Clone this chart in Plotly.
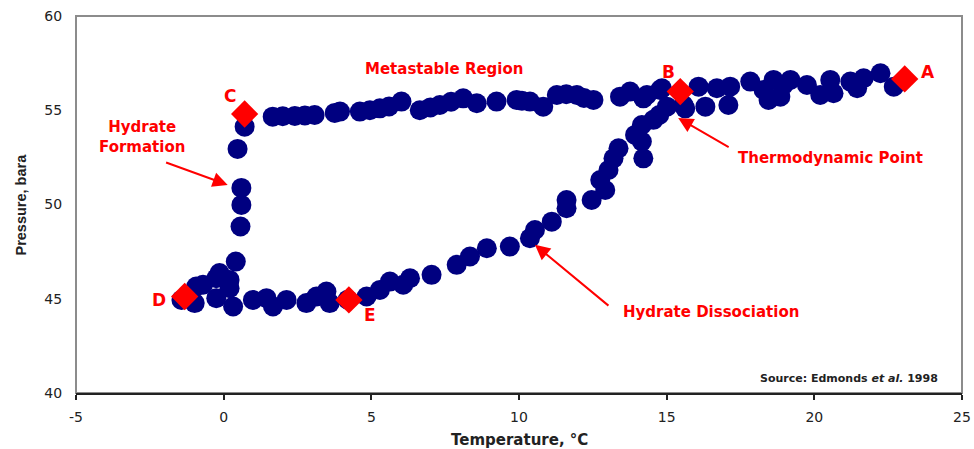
import plotly.graph_objects as go

# Measured cycle points (temperature °C, pressure bara)
temperature = [
    22.69, 22.24, 21.67, 21.45, 21.22, 20.65, 20.54, 20.20, 19.75, 19.19, 18.96, 18.85,
    18.62, 18.45, 18.28, 17.83, 17.15, 17.09, 16.70, 16.31, 16.08, 15.63, 15.57, 14.84,
    14.78, 14.33, 14.21, 13.76, 13.42, 12.52, 12.20, 11.96, 11.60, 11.28, 10.82, 10.37,
    10.10, 9.92, 9.24, 8.57, 8.11, 7.70, 7.32, 7.00, 6.64, 6.02, 5.60, 5.29, 4.95, 4.61,
    3.94, 3.76, 3.08, 2.75, 2.41, 2.00, 1.66,
    0.71, 0.47, 0.60, 0.60, 0.57, 0.41,
    0.20, -0.14, -0.25, -0.70, -0.93, -1.43, -0.98, -0.25, 0.20, 0.32, 0.99, 1.45, 1.67,
    2.13, 2.80, 3.14, 3.48, 3.59, 4.20, 4.84, 5.29, 5.63, 6.08, 6.31, 7.04,
    7.89, 8.34, 8.91, 9.69, 10.37, 10.54, 11.11, 11.61, 11.61, 12.46, 12.92, 12.75,
    13.03, 13.20, 13.37, 13.93, 14.16, 14.55, 14.16, 14.21, 14.75, 15.01,
]
pressure = [
    56.25, 56.96, 56.70, 56.17, 56.52, 55.90, 56.61, 55.81, 56.34, 56.61, 56.34, 55.72,
    56.61, 55.55, 56.08, 56.52, 56.25, 55.28, 56.17, 55.19, 56.25, 55.10, 55.28, 56.17,
    56.08, 55.81, 55.63, 55.99, 55.72, 55.55, 55.65, 55.81, 55.85, 55.81, 55.19, 55.46,
    55.50, 55.55, 55.46, 55.37, 55.63, 55.45, 55.28, 55.15, 55.00, 55.46, 55.20, 55.10, 55.00, 54.93,
    54.93, 54.86, 54.75, 54.72, 54.70, 54.68, 54.66,
    54.13, 52.95, 50.88, 49.98, 48.83, 46.97,
    46.00, 46.36, 46.09, 45.74, 45.65, 44.94, 44.77, 45.03, 45.56, 44.59, 44.94, 45.03, 44.59,
    44.94, 44.77, 45.12, 45.38, 44.77, 44.95, 45.12, 45.47, 45.91, 45.74, 46.09, 46.27,
    46.80, 47.24, 47.68, 47.77, 48.21, 48.65, 49.09, 49.80, 50.24, 50.24, 50.77, 51.30,
    51.83, 52.45, 52.98, 53.69, 54.22, 54.49, 53.34, 52.45, 54.75, 55.19,
]

# Key points A-E
key_labels = ["A", "B", "C", "D", "E"]
key_temperature = [23.06, 15.46, 0.71, -1.32, 4.24]
key_pressure = [56.66, 55.99, 54.80, 45.12, 44.94]

x_ticks = [-5, 0, 5, 10, 15, 20, 25]
y_ticks = [40, 45, 50, 55, 60]

RED = "#ff0000"
NAVY = "#000080"
FONT = "DejaVu Sans"
DARK = "#222222"

fig = go.Figure()
fig.add_trace(go.Scatter(
    x=temperature, y=pressure, mode="markers",
    marker=dict(symbol="circle", size=20, color=NAVY, line=dict(width=0)),
    hoverinfo="skip", showlegend=False,
))
fig.add_trace(go.Scatter(
    x=key_temperature, y=key_pressure, mode="markers",
    marker=dict(symbol="diamond", size=21, color=RED, line=dict(width=0)),
    text=key_labels, hoverinfo="text", showlegend=False,
))

ann = []
letter_pos = {"A": (23.86, 57.03), "B": (15.05, 57.03), "C": (0.20, 55.76),
              "D": (-2.2, 44.94), "E": (4.95, 44.15)}
for lab in key_labels:
    lx, ly = letter_pos[lab]
    ann.append(dict(x=lx, y=ly, text=lab, showarrow=False,
                    font=dict(family=FONT, size=17, color=RED, weight="bold")))

texts = [
    ("Metastable Region", 7.47, 57.17),
    ("Hydrate<br>Formation", -2.76, 53.58),
    ("Thermodynamic Point", 20.54, 52.45),
    ("Hydrate Dissociation", 16.51, 44.32),
]
for t, tx, ty in texts:
    ann.append(dict(x=tx, y=ty, text=t, showarrow=False,
                    font=dict(family=FONT, size=15, color=RED, weight="bold")))

arrows = [
    ((0.136, 51.04), (-2.0, 52.26)),
    ((15.39, 54.59), (17.15, 53.0)),
    ((10.54, 47.86), (13.08, 44.57)),
]
for (hx, hy), (tx, ty) in arrows:
    ann.append(dict(x=hx, y=hy, ax=tx, ay=ty, axref="x", ayref="y", xref="x", yref="y",
                    text="", showarrow=True, arrowhead=2, arrowsize=1.5,
                    arrowwidth=2, arrowcolor=RED))

ann.append(dict(x=24.24, y=40.75, xanchor="right", yanchor="middle", showarrow=False,
                text="Source: Edmonds <i>et al.</i> 1998",
                font=dict(family=FONT, size=11, color=DARK, weight="bold")))

# axis titles
ann.append(dict(x=0.5, y=-0.1247, xref="paper", yref="paper", xanchor="center",
                yanchor="middle", showarrow=False, text="Temperature, °C",
                font=dict(family=FONT, size=15, color=DARK, weight="bold")))
ann.append(dict(x=-0.0632, y=0.5, xref="paper", yref="paper", xanchor="center",
                yanchor="middle", showarrow=False, text="Pressure, bara", textangle=-90,
                font=dict(family="Liberation Sans", size=14.5, color=DARK, weight="bold")))

fig.update_layout(
    width=974, height=449,
    margin=dict(l=76, r=12, t=16, b=56),
    paper_bgcolor="white", plot_bgcolor="white",
    annotations=ann,
    shapes=[dict(type="rect", xref="paper", yref="paper", x0=0, x1=1, y0=0, y1=1,
                 line=dict(color="#8c8c8c", width=2), layer="below")],
    xaxis=dict(
        range=[-5, 25], tickvals=x_ticks, ticktext=[str(v) for v in x_ticks],
        showgrid=False, zeroline=False, showline=True, linecolor=DARK, linewidth=2,
        ticks="outside", ticklen=5, tickwidth=2, tickcolor=DARK, ticklabelstandoff=5,
        tickfont=dict(family=FONT, size=14, color=DARK), automargin=False,
    ),
    yaxis=dict(
        range=[40, 60], tickvals=y_ticks, ticktext=[str(v) for v in y_ticks],
        showgrid=False, zeroline=False, showline=False,
        ticks="outside", ticklen=10, tickcolor="rgba(0,0,0,0)",
        tickfont=dict(family=FONT, size=14, color=DARK), automargin=False,
    ),
)

fig.write_html("out.html")
